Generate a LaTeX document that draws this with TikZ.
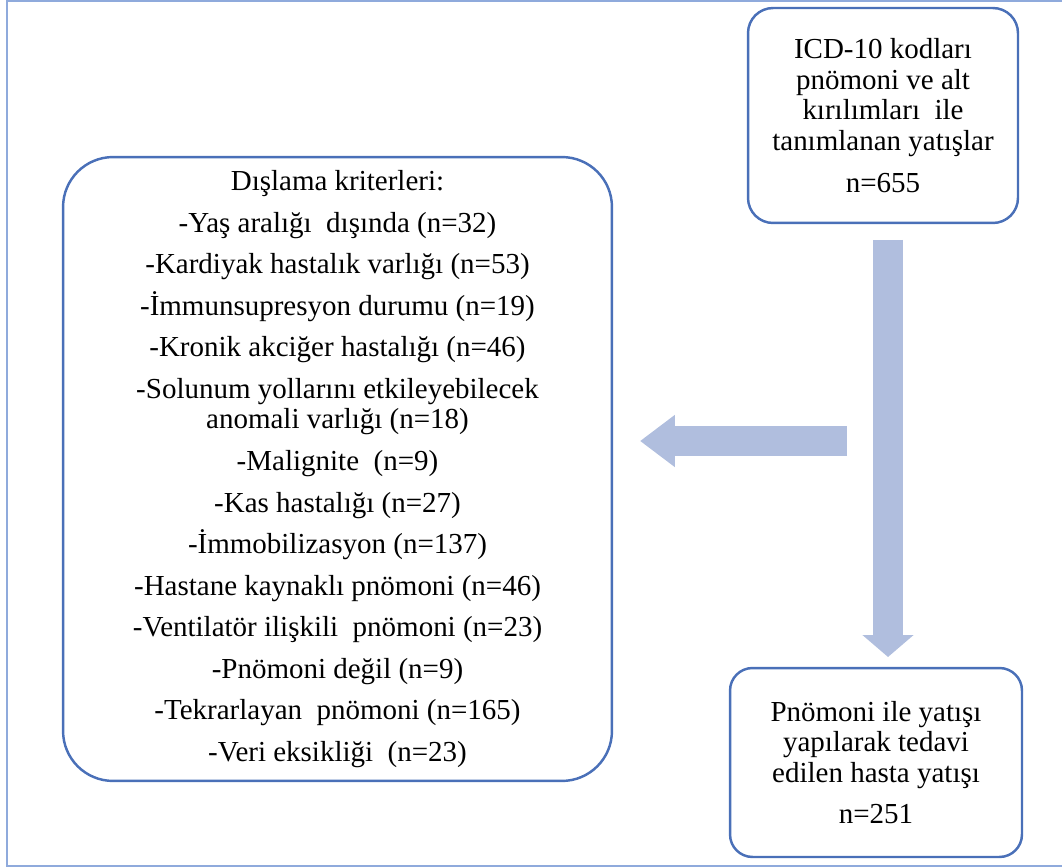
\documentclass[tikz,border=0pt]{standalone}
\usepackage{fontspec}
\setmainfont{Liberation Serif}
\usetikzlibrary{arrows.meta}
\definecolor{boxblue}{RGB}{74,112,184}
\definecolor{frameblue}{RGB}{143,170,220}
\definecolor{arrowfill}{RGB}{176,190,222}

\begin{document}
\begin{tikzpicture}[x=0.02cm,y=-0.02cm,
    box/.style={draw=boxblue,line width=1.4pt,align=center,inner sep=0pt,
        font=\fontsize{16.5}{17.4}\selectfont},
    bigarrow/.style={draw=arrowfill,line width=0.6cm,-{Triangle[length=#1,width=1cm]}}]
    \useasboundingbox (0,0) rectangle (1062,868);
    % outer frame (right side runs off the page)
    \draw[frameblue,line width=1.4pt] (7,1) rectangle (1080,866);
    % boxes
    \node[box,rounded corners=0.5cm,minimum width=5.4cm,minimum height=4.3cm] (icd) at (883,115.5)
        {ICD-10 kodları\\ pnömoni ve alt\\ kırılımları\ \ ile\\ tanımlanan yatışlar\\[0.22cm] n=655};
    \node[box,rounded corners=0.45cm,minimum width=5.84cm,minimum height=3.78cm] (final) at (876,762.5)
        {Pnömoni ile yatışı\\ yapılarak tedavi\\ edilen hasta yatışı\\[0.22cm] n=251};
    \node[box,rounded corners=1cm,minimum width=10.98cm,minimum height=12.48cm] (crit) at (337.5,469)
        {Dışlama kriterleri:\\[0.22cm]
         -Yaş aralığı\ \ dışında (n=32)\\[0.22cm]
         -Kardiyak hastalık varlığı (n=53)\\[0.22cm]
         -İmmunsupresyon durumu (n=19)\\[0.22cm]
         -Kronik akciğer hastalığı (n=46)\\[0.22cm]
         -Solunum yollarını etkileyebilecek\\
         anomali varlığı (n=18)\\[0.22cm]
         -Malignite\ \ (n=9)\\[0.22cm]
         -Kas hastalığı (n=27)\\[0.22cm]
         -İmmobilizasyon (n=137)\\[0.22cm]
         -Hastane kaynaklı pnömoni (n=46)\\[0.22cm]
         -Ventilatör ilişkili\ \ pnömoni (n=23)\\[0.22cm]
         -Pnömoni değil (n=9)\\[0.22cm]
         -Tekrarlayan\ \ pnömoni (n=165)\\[0.22cm]
         -Veri eksikliği\ \ (n=23)};
    % block arrows
    \coordinate (vtop) at (888,240);
    \coordinate (vtip) at (888,657);
    \coordinate (hstart) at (847,441);
    \coordinate (htip) at (640,441);
    \draw[bigarrow=0.44cm] (vtop) -- (vtip);
    \draw[bigarrow=0.7cm] (hstart) -- (htip);
\end{tikzpicture}
\end{document}
